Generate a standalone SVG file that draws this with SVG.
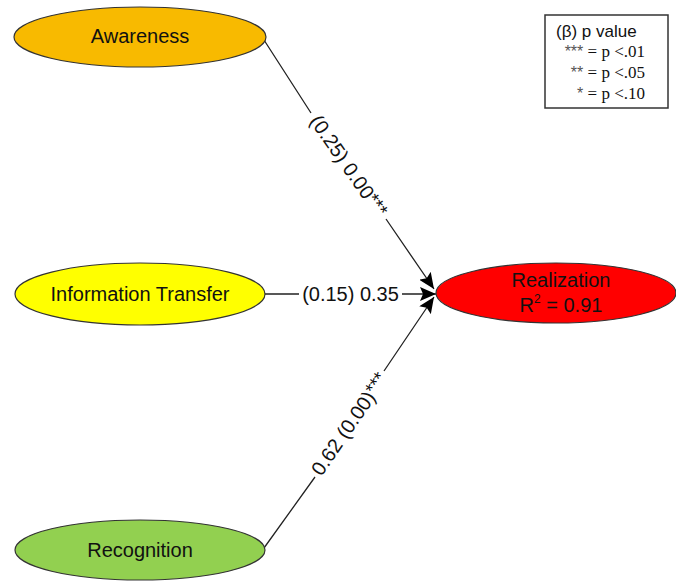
<svg xmlns="http://www.w3.org/2000/svg" width="676" height="581" viewBox="0 0 676 581">
<style>
.node ellipse{stroke:#333;stroke-width:1.2}
.lbl{font-family:"Liberation Sans",Arial,sans-serif;font-size:20px;fill:#111;text-anchor:middle}
.conn{stroke:#222;stroke-width:1.3;fill:none;marker-end:url(#ah)}
.leg{font-family:"Liberation Serif","Times New Roman",serif;font-size:17px;fill:#111;text-anchor:end}
.star{font-size:16px}
.estar{font-size:19px}
</style>
<defs>
<marker id="ah" viewBox="0 0 16 14" refX="16" refY="7" markerWidth="16" markerHeight="14" markerUnits="userSpaceOnUse" orient="auto">
<path d="M0,0 L16,7 L0,14 L3,7 Z" fill="#000"/>
</marker>
</defs>
<rect width="676" height="581" fill="#fff"/>
<g id="connectors">
<path class="conn" d="M264,40 L311,113 M386,219 L434,289"/>
<path class="conn" d="M265,294 L299,294 M402,294 L436,294"/>
<path class="conn" d="M264,548 L315,477 M384,371 L434,297"/>
<text class="lbl" transform="translate(348.5,166) rotate(55.3)" dy="7">(0.25) 0.00<tspan class="estar" dy="-2">***</tspan></text>
<text class="lbl" x="350.5" y="301">(0.15) 0.35</text>
<text class="lbl" transform="translate(349.5,424) rotate(-55.5)" dy="7">0.62 (0.00)<tspan class="estar" dy="-2">***</tspan></text>
</g>
<g id="awareness" class="node">
<ellipse cx="140" cy="37" rx="126" ry="30" fill="#F8BA00"/>
<text class="lbl" x="140" y="43">Awareness</text>
</g>
<g id="information-transfer" class="node">
<ellipse cx="140" cy="294" rx="125" ry="31" fill="#FFFF00"/>
<text class="lbl" x="140" y="301">Information Transfer</text>
</g>
<g id="recognition" class="node">
<ellipse cx="140" cy="550" rx="125" ry="30" fill="#92D050"/>
<text class="lbl" x="140" y="557">Recognition</text>
</g>
<g id="realization" class="node">
<ellipse cx="556" cy="293" rx="120" ry="30" fill="#FF0000"/>
<text class="lbl" x="561" y="287">Realization</text>
<text class="lbl" x="561" y="312">R<tspan font-size="12" dy="-9">2</tspan><tspan dy="9"> = 0.91</tspan></text>
</g>
<g id="legend">
<rect x="545" y="15" width="123" height="93" fill="#fff" stroke="#333" stroke-width="1.5"/>
<text x="556" y="37" style="font-family:'Liberation Sans',Arial,sans-serif;font-size:17px;fill:#111">(β) p value</text>
<text class="leg" x="645" y="57"><tspan class="star" fill="#555" font-family="Liberation Sans, sans-serif">***</tspan> = p &lt;.01</text>
<text class="leg" x="645" y="78"><tspan class="star" fill="#555" font-family="Liberation Sans, sans-serif">**</tspan> = p &lt;.05</text>
<text class="leg" x="645" y="99"><tspan class="star" fill="#555" font-family="Liberation Sans, sans-serif">*</tspan> = p &lt;.10</text>
</g>
</svg>
